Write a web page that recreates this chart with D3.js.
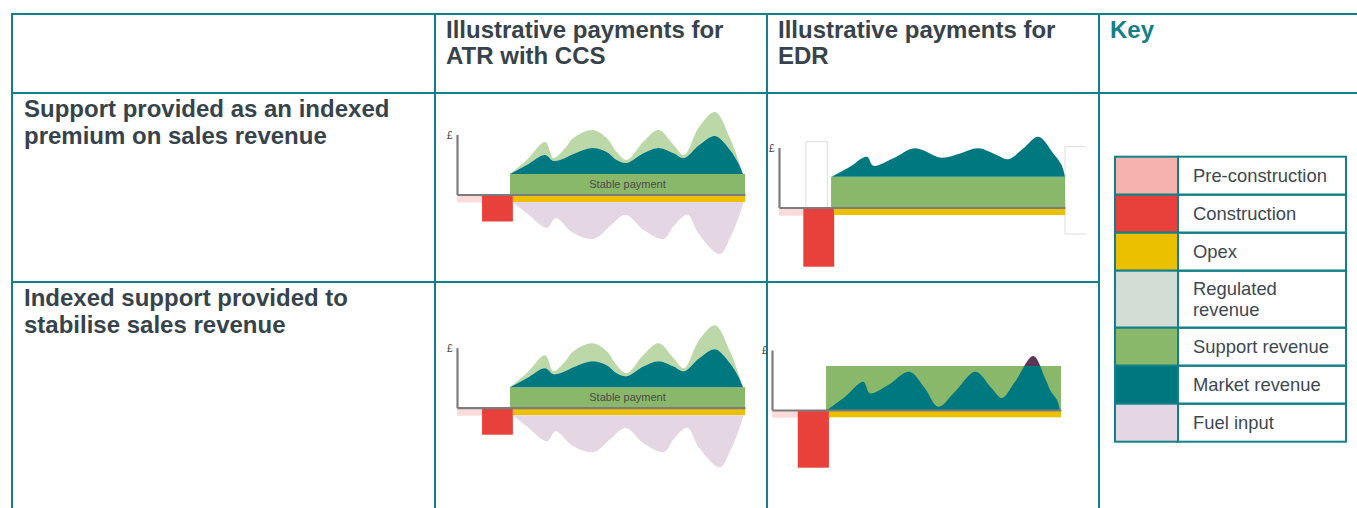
<!DOCTYPE html>
<html>
<head>
<meta charset="utf-8">
<script src="https://cdnjs.cloudflare.com/ajax/libs/d3/7.8.5/d3.min.js"></script>
<style>
  body { margin: 0; background: #fff; }
  text { font-family: "Liberation Sans", Arial, sans-serif; }
</style>
</head>
<body>
<script>
var svgWidth = 1357;
var svgHeight = 508;

// table headings
var columnHeads = [["Illustrative payments for", "ATR with CCS"], ["Illustrative payments for", "EDR"]];
var rowHeads = [["Support provided as an indexed", "premium on sales revenue"], ["Indexed support provided to", "stabilise sales revenue"]];

// key
var keyLabels = [["Pre-construction"], ["Construction"], ["Opex"], ["Regulated", "revenue"], ["Support revenue"], ["Market revenue"], ["Fuel input"]];
var keyColours = ["#f5b2ae", "#e8403a", "#ebc000", "#d2ddd5", "#8ab86a", "#00777f", "#e4d6e3"];

// ATR with CCS (time 0-100, £ in arbitrary units)
var atrPhases = [
  {name: "pre", t0: 0, t1: 8.7, v0: 0, v1: -8},
  {name: "build", t0: 8.7, t1: 19.4, v0: 0, v1: -27},
  {name: "opex", t0: 19.4, t1: 100, v0: 0, v1: -7.5},
  {name: "support", t0: 18.4, t1: 100, v0: 0, v1: 20.5}
];
var atrTime    = [18.4, 24.2, 30.6, 33.5, 37.5, 40.4, 47, 52, 55.4, 58.9, 64.7, 70, 75.2, 78.8, 84.1, 89.6, 94.8, 97.7, 99.3];
var atrMarket  = [0, 9, 19, 13, 16, 20, 26, 22, 14, 11, 20.7, 26, 20.7, 16, 29, 38, 24, 10.7, 0];
var atrPremium = [0, 5, 13, 3, 9.7, 16, 18, 14, 8.3, 3, 11.6, 18, 8.3, 3, 18.3, 24, 11.7, 3.3, 0];
var atrFuelTime = [19.3, 24.2, 31.3, 34.2, 40.4, 47.6, 53.1, 58.6, 64.7, 71.9, 75.2, 80, 84.1, 91.3, 94.8, 97.7, 99.5];
var atrFuel     = [0, 11, 26, 16, 31, 36.7, 24, 12.7, 27.7, 36.7, 24, 12.7, 32.7, 52, 36, 16, 0];

// EDR, first row
var edrTopPhases = [
  {name: "pre", t0: 0, t1: 8.5, v0: 0, v1: -8.2},
  {name: "build", t0: 8.5, t1: 19.3, v0: 0, v1: -59.2},
  {name: "opex", t0: 19.3, t1: 100, v0: 0, v1: -7.5},
  {name: "support", t0: 18.2, t1: 100, v0: 0, v1: 30.8}
];
var edrTopTime   = [18.4, 24.8, 30.7, 33, 40, 47.5, 56.8, 63.3, 69.7, 76.1, 80.2, 85.4, 90.7, 95.9, 98.8, 100];
var edrTopMarket = [0, 10, 20, 11, 18.4, 28.4, 19, 23.3, 28.4, 21.7, 17.4, 28.3, 40, 23.3, 11.7, 0];
var edrTopBlanks = [{t0: 9.4, t1: 16.9, v0: 0, v1: 65.8, open: false}, {t0: 100, t1: 107.2, v0: -26.5, v1: 60.8, open: true}];

// EDR, second row
var edrBottomPhases = [
  {name: "pre", t0: 0, t1: 8.9, v0: 0, v1: -7.7},
  {name: "build", t0: 8.9, t1: 19.7, v0: 0, v1: -57.7},
  {name: "opex", t0: 19.7, t1: 100, v0: 0, v1: -7.3},
  {name: "support", t0: 18.7, t1: 100, v0: 0, v1: 44}
];
var edrBottomTime   = [19, 25.3, 31.6, 33.9, 40.2, 47.5, 52.9, 57.5, 63.3, 70.4, 76, 79.5, 84.1, 90.4, 94.5, 96.6, 98.7, 99.6];
var edrBottomMarket = [0, 13.3, 28.3, 16.7, 25, 38.3, 21.7, 3.3, 18.3, 38.3, 21.7, 12, 28.3, 54, 31.7, 18, 9.7, 0];

var phaseFill = {pre: "#fcdcdb", build: "#e8403a", opex: "#ecc000", support: "#8ab86a"};
var teal = "#137f88";
var ink = "#37434b";

var svg = d3.select("body")
  .append("svg")
  .attr("width", svgWidth)
  .attr("height", svgHeight);

// ---- table grid ----
var grid = svg.append("g").attr("stroke", teal).attr("stroke-width", 2);
grid.append("line").attr("x1", 12).attr("x2", svgWidth).attr("y1", 14).attr("y2", 14);
grid.append("line").attr("x1", 12).attr("x2", svgWidth).attr("y1", 93).attr("y2", 93);
grid.append("line").attr("x1", 12).attr("x2", 1099).attr("y1", 282).attr("y2", 282);
[12, 435, 767, 1099].forEach(function(x) {
  grid.append("line").attr("x1", x).attr("x2", x).attr("y1", 13).attr("y2", svgHeight);
});

function multiLine(g, lines, x, y, step, size, colour) {
  var t = g.append("text")
    .attr("x", x).attr("y", y)
    .attr("font-size", size)
    .attr("font-weight", "bold")
    .attr("fill", colour);
  t.selectAll("tspan")
    .data(lines)
    .enter()
    .append("tspan")
    .attr("x", x)
    .attr("dy", function(d, i) { return i == 0 ? 0 : step; })
    .text(function(d) { return d; });
}

multiLine(svg, columnHeads[0], 446, 38, 26, 24, ink);
multiLine(svg, columnHeads[1], 778, 38, 26, 24, ink);
multiLine(svg, ["Key"], 1110, 38, 26, 24, teal);
multiLine(svg, rowHeads[0], 24, 117, 27, 24, ink);
multiLine(svg, rowHeads[1], 24, 306, 27, 24, ink);

// ---- key ----
var keyG = svg.append("g");
var keyTop = 156.7;
var rowY = [];
keyLabels.forEach(function(lab, i) {
  var h = 19 + 19 * lab.length;
  rowY.push({y: keyTop, h: h, lines: lab, colour: keyColours[i]});
  keyTop += h;
});

var keyRows = keyG.selectAll("g")
  .data(rowY)
  .enter()
  .append("g");

keyRows.append("rect")
  .attr("x", 1115).attr("width", 63)
  .attr("y", d => d.y).attr("height", d => d.h)
  .attr("fill", d => d.colour)
  .attr("stroke", teal).attr("stroke-width", 2);

keyRows.append("rect")
  .attr("x", 1178).attr("width", 168)
  .attr("y", d => d.y).attr("height", d => d.h)
  .attr("fill", "none")
  .attr("stroke", teal).attr("stroke-width", 2);

keyRows.append("text")
  .attr("font-size", 18.4)
  .attr("fill", "#3d4850")
  .each(function(d) {
    var mid = d.y + d.h / 2 + 6.5;
    var first = mid - (d.lines.length - 1) * 10.5;
    d3.select(this).selectAll("tspan")
      .data(d.lines)
      .enter()
      .append("tspan")
      .attr("x", 1193)
      .attr("y", (l, j) => first + j * 21)
      .text(l => l);
  });

// ---- small charts ----
var curve = d3.curveCatmullRom.alpha(0.5);

function drawPanel(p) {
  var x = d3.scaleLinear().domain([0, 100]).range([p.axisX, p.axisX + p.width]);
  var y = d3.scaleLinear().domain([-70, 70]).range([p.baseY + 70, p.baseY - 70]);
  var g = svg.append("g");

  // blank outlined boxes
  if (p.blanks) {
    p.blanks.forEach(function(b) {
      var path = d3.path();
      if (b.open) {
        path.moveTo(x(b.t1), y(b.v1));
        path.lineTo(x(b.t0), y(b.v1));
        path.lineTo(x(b.t0), y(b.v0));
        path.lineTo(x(b.t1), y(b.v0));
      } else {
        path.rect(x(b.t0), y(b.v1), x(b.t1) - x(b.t0), y(b.v0) - y(b.v1));
      }
      g.append("path").attr("d", path.toString())
        .attr("fill", "#fff").attr("stroke", "#dcdcdc").attr("stroke-width", 1);
    });
  }

  // phase blocks
  g.selectAll("rect.phase")
    .data(p.phases)
    .enter()
    .append("rect")
    .attr("class", "phase")
    .attr("x", d => x(d.t0))
    .attr("width", d => x(d.t1) - x(d.t0))
    .attr("y", d => y(Math.max(d.v0, d.v1)))
    .attr("height", d => Math.abs(y(d.v1) - y(d.v0)))
    .attr("fill", d => phaseFill[d.name]);

  var supportTop = p.phases[3].v1;
  var opexBottom = p.phases[2].v1;

  // fuel input below opex
  if (p.fuelTime) {
    var fuel = p.fuelTime.map((t, i) => ({t: t, v: p.fuel[i]}));
    g.append("path")
      .datum(fuel)
      .attr("fill", "#e4d6e3")
      .attr("d", d3.area().curve(curve)
        .x(d => x(d.t))
        .y0(y(opexBottom))
        .y1(d => y(opexBottom - d.v)));
  }

  var rows = p.time.map(function(t, i) {
    return {t: t, market: p.market[i], premium: p.premium ? p.premium[i] : 0};
  });
  var stacked = d3.stack().keys(["market", "premium"])(rows);

  var layer = d3.area().curve(curve)
    .x(d => x(d.data.t))
    .y0(d => y(supportTop + d[0]))
    .y1(d => y(supportTop + d[1]));

  if (p.premium) {
    g.append("path").datum(stacked[1]).attr("fill", "#bcd8a8").attr("d", layer);
  }

  if (p.cap) {
    // market revenue starts at zero and is capped by the support level
    var id = "cap" + p.baseY;
    var capArea = d3.area().curve(curve)
      .x(d => x(d.t))
      .y0(y(0))
      .y1(d => y(d.market));
    var defs = g.append("defs");
    defs.append("clipPath").attr("id", id + "a")
      .append("rect").attr("x", x(0)).attr("width", x(100) - x(0))
      .attr("y", y(p.cap)).attr("height", y(0) - y(p.cap) + 2);
    defs.append("clipPath").attr("id", id + "b")
      .append("rect").attr("x", x(0)).attr("width", x(100) - x(0))
      .attr("y", y(70)).attr("height", y(p.cap) - y(70));
    g.append("path").datum(rows).attr("fill", "#00787f")
      .attr("clip-path", "url(#" + id + "a)").attr("d", capArea);
    g.append("path").datum(rows).attr("fill", "#5b3655")
      .attr("clip-path", "url(#" + id + "b)").attr("d", capArea);
  } else {
    g.append("path").datum(stacked[0]).attr("fill", "#00787f").attr("d", layer);
  }

  if (p.label) {
    var sp = p.phases[3];
    g.append("text")
      .attr("x", x((sp.t0 + sp.t1) / 2))
      .attr("y", y(sp.v1 / 2) + 4)
      .attr("text-anchor", "middle")
      .attr("font-size", 11)
      .attr("fill", "#4a4a4a")
      .text(p.label);
  }

  // axes
  var xAxis = d3.axisBottom(x).tickValues([]).tickSizeOuter(0);
  var yAxis = d3.axisLeft(y.copy().domain([0, 60]).range([y(0), y(60)])).tickValues([]).tickSizeOuter(0);

  g.append("g").attr("transform", `translate(0, ${y(0)})`).call(xAxis)
    .select(".domain").attr("stroke", "#7c7c7c").attr("stroke-width", 2.2);
  g.append("g").attr("transform", `translate(${x(0)}, 0)`).call(yAxis)
    .select(".domain").attr("stroke", "#7c7c7c").attr("stroke-width", 2.2);

  g.append("text")
    .attr("x", x(0) - 10).attr("y", y(60) + 4)
    .attr("font-size", 10)
    .attr("fill", "#444")
    .text("£");
}

drawPanel({axisX: 457, baseY: 194.5, width: 288, phases: atrPhases, time: atrTime, market: atrMarket,
  premium: atrPremium, fuelTime: atrFuelTime, fuel: atrFuel, label: "Stable payment"});
drawPanel({axisX: 457, baseY: 407.7, width: 288, phases: atrPhases, time: atrTime, market: atrMarket,
  premium: atrPremium, fuelTime: atrFuelTime, fuel: atrFuel, label: "Stable payment"});
drawPanel({axisX: 779, baseY: 207.5, width: 286, phases: edrTopPhases, time: edrTopTime, market: edrTopMarket,
  blanks: edrTopBlanks});
drawPanel({axisX: 772, baseY: 410, width: 289, phases: edrBottomPhases, time: edrBottomTime, market: edrBottomMarket,
  cap: 44});
</script>
</body>
</html>
